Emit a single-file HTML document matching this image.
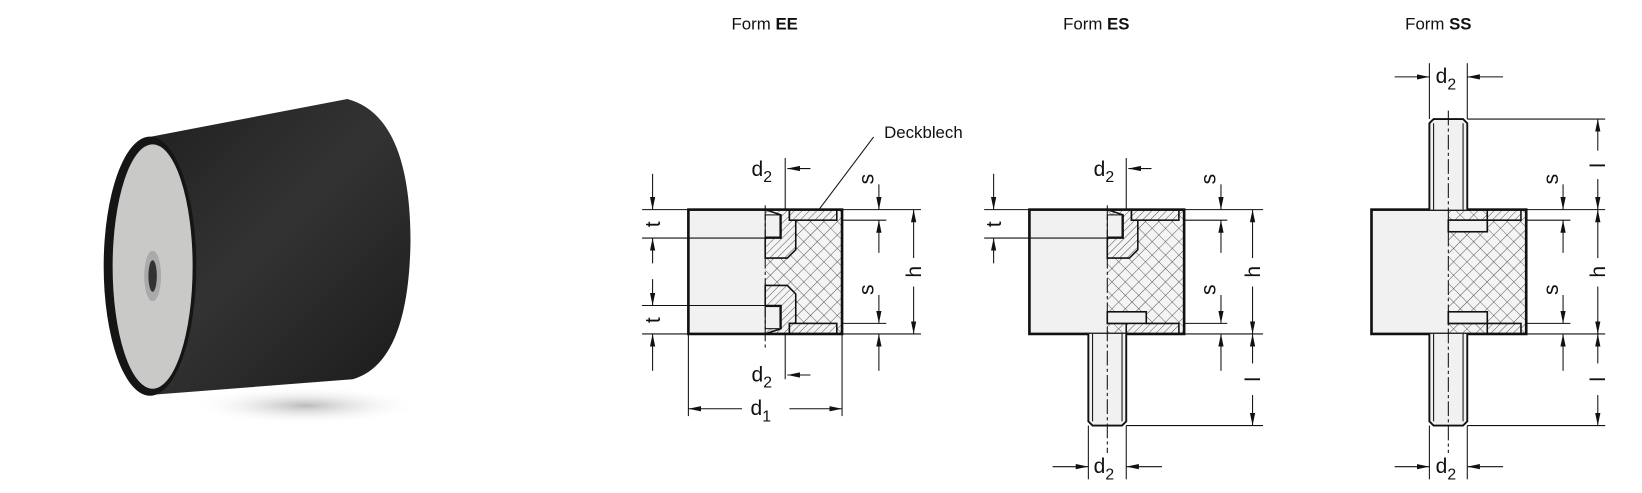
<!DOCTYPE html>
<html><head><meta charset="utf-8"><style>
html,body{margin:0;padding:0;background:#fff;}
svg{display:block;}
text{font-family:"Liberation Sans",Arial,sans-serif;fill:#111;}
</style></head><body>
<svg width="1642" height="493" viewBox="0 0 1560 468" preserveAspectRatio="none" xmlns="http://www.w3.org/2000/svg">
<defs>
<marker id="a" markerWidth="12" markerHeight="6" refX="12" refY="3" orient="auto" markerUnits="userSpaceOnUse"><path d="M0,0.5 L12,3 L0,5.5 Z" fill="#111"/></marker>
<pattern id="x" width="9" height="9" patternUnits="userSpaceOnUse" patternTransform="rotate(45)"><rect width="9" height="9" fill="#f4f4f4"/><path d="M0,0 H9 M0,0 V9" stroke="#333" stroke-width="0.8"/></pattern>
<pattern id="h" width="5" height="5" patternUnits="userSpaceOnUse" patternTransform="rotate(45)"><rect width="5" height="5" fill="#f4f4f4"/><path d="M0,0 V5" stroke="#333" stroke-width="0.8"/></pattern>
<radialGradient id="sh" cx="0.5" cy="0.5" r="0.5"><stop offset="0" stop-color="#bbb"/><stop offset="1" stop-color="#fff" stop-opacity="0"/></radialGradient>
<linearGradient id="rb" x1="100" y1="90" x2="390" y2="380" gradientUnits="userSpaceOnUse"><stop offset="0" stop-color="#1c1c1c"/><stop offset="0.5" stop-color="#333"/><stop offset="1" stop-color="#1a1a1a"/></linearGradient>
</defs>

<!-- photo -->
<ellipse cx="290" cy="385" rx="110" ry="18" fill="url(#sh)"/>
<path d="M142,130 L330,94 Q390,110 390,230 Q388,345 335,360 L142,375 Z" fill="url(#rb)"/>
<ellipse cx="142.5" cy="252.7" rx="44" ry="123" fill="#151515"/>
<ellipse cx="145" cy="253" rx="38" ry="116" fill="#c9c9c7"/>
<ellipse cx="145" cy="262" rx="8" ry="24" fill="#aaa"/>
<ellipse cx="145" cy="262" rx="4" ry="15" fill="#333"/>

<!-- titles -->
<text x="695" y="28" font-size="16">Form <tspan font-weight="bold">EE</tspan></text>
<text x="1010" y="28" font-size="16">Form <tspan font-weight="bold">ES</tspan></text>
<text x="1335" y="28" font-size="16">Form <tspan font-weight="bold">SS</tspan></text>

<g stroke="#111" stroke-width="1" fill="none">
<!-- ===== EE ===== -->
<rect x="654" y="199" width="146" height="118" fill="#f1f1f1" stroke="none"/>
<rect x="727" y="199" width="73" height="118" fill="url(#x)" stroke="none"/>
<path d="M727,199 H750 V209 H756 V237 L748,245 H727 V226 H742 V204 Z" fill="url(#h)" stroke-width="1.5"/>
<path d="M727,317 H750 V307 H756 V279 L748,271 H727 V290 H742 V312 Z" fill="url(#h)" stroke-width="1.5"/>
<rect x="727" y="204" width="14" height="21" fill="#f1f1f1" stroke-width="1"/>
<rect x="727" y="291" width="14" height="21" fill="#f1f1f1" stroke-width="1"/>
<rect x="750" y="199" width="45" height="10" fill="url(#h)" stroke-width="1.5"/>
<rect x="750" y="307" width="45" height="10" fill="url(#h)" stroke-width="1.5"/>
<rect x="654" y="199" width="146" height="118" stroke-width="2.5"/>
<line x1="727" y1="195" x2="727" y2="330" stroke-dasharray="14,3,3,3"/>
<line x1="746" y1="150" x2="746" y2="199"/>
<line x1="746" y1="317" x2="746" y2="360"/>
<line x1="770" y1="160" x2="748" y2="160" marker-end="url(#a)"/>
<line x1="770" y1="356" x2="748" y2="356" marker-end="url(#a)"/>
<line x1="830" y1="130" x2="778" y2="199"/>
<line x1="610" y1="199" x2="654" y2="199"/><line x1="610" y1="226" x2="727" y2="226"/>
<line x1="610" y1="290" x2="727" y2="290"/><line x1="610" y1="317" x2="654" y2="317"/>
<line x1="620" y1="165" x2="620" y2="199" marker-end="url(#a)"/>
<line x1="620" y1="250" x2="620" y2="226" marker-end="url(#a)"/>
<line x1="620" y1="265" x2="620" y2="290" marker-end="url(#a)"/>
<line x1="620" y1="352" x2="620" y2="317" marker-end="url(#a)"/>
<line x1="800" y1="199" x2="875" y2="199"/><line x1="800" y1="209" x2="842" y2="209"/>
<line x1="800" y1="307" x2="842" y2="307"/><line x1="800" y1="317" x2="875" y2="317"/>
<line x1="835" y1="175" x2="835" y2="199" marker-end="url(#a)"/>
<line x1="835" y1="240" x2="835" y2="209" marker-end="url(#a)"/>
<line x1="835" y1="280" x2="835" y2="307" marker-end="url(#a)"/>
<line x1="835" y1="352" x2="835" y2="317" marker-end="url(#a)"/>
<line x1="868" y1="245" x2="868" y2="199" marker-end="url(#a)"/>
<line x1="868" y1="272" x2="868" y2="317" marker-end="url(#a)"/>
<line x1="654" y1="317" x2="654" y2="395"/><line x1="800" y1="317" x2="800" y2="395"/>
<line x1="705" y1="388" x2="654" y2="388" marker-end="url(#a)"/>
<line x1="750" y1="388" x2="800" y2="388" marker-end="url(#a)"/>

<!-- ===== ES ===== -->
<rect x="978" y="199" width="147" height="118" fill="#f1f1f1" stroke="none"/>
<rect x="1052" y="199" width="73" height="118" fill="url(#x)" stroke="none"/>
<path d="M1052,199 H1075 V209 H1081 V237 L1073,245 H1052 V226 H1067 V204 Z" fill="url(#h)" stroke-width="1.5"/>
<rect x="1052" y="204" width="14" height="21" fill="#f1f1f1"/>
<rect x="1075" y="199" width="45" height="10" fill="url(#h)" stroke-width="1.5"/>
<path d="M1052,296 H1089 V307 H1120 V317 H1070 V307 H1052 Z" fill="url(#h)" stroke-width="1.5"/>
<rect x="1052" y="296" width="37" height="11" fill="#f1f1f1" stroke-width="1.5"/>
<rect x="978" y="199" width="147" height="118" stroke-width="2.5"/>
<path d="M1034,317 V400 L1038,404 H1066 L1070,400 V317" fill="#f1f1f1" stroke-width="1.8"/>
<line x1="1038" y1="317" x2="1038" y2="400"/><line x1="1066" y1="317" x2="1066" y2="400"/>
<line x1="1052" y1="195" x2="1052" y2="430" stroke-dasharray="14,3,3,3"/>
<line x1="1070" y1="150" x2="1070" y2="199"/>
<line x1="1094" y1="160" x2="1072" y2="160" marker-end="url(#a)"/>
<line x1="1034" y1="404" x2="1034" y2="455"/><line x1="1070" y1="404" x2="1070" y2="455"/>
<line x1="1000" y1="443" x2="1034" y2="443" marker-end="url(#a)"/>
<line x1="1104" y1="443" x2="1070" y2="443" marker-end="url(#a)"/>
<line x1="935" y1="199" x2="978" y2="199"/><line x1="935" y1="226" x2="1052" y2="226"/>
<line x1="944" y1="165" x2="944" y2="199" marker-end="url(#a)"/>
<line x1="944" y1="250" x2="944" y2="226" marker-end="url(#a)"/>
<line x1="1125" y1="199" x2="1200" y2="199"/><line x1="1125" y1="209" x2="1166" y2="209"/>
<line x1="1125" y1="307" x2="1166" y2="307"/><line x1="1125" y1="317" x2="1200" y2="317"/>
<line x1="1070" y1="404" x2="1200" y2="404"/>
<line x1="1160" y1="175" x2="1160" y2="199" marker-end="url(#a)"/>
<line x1="1160" y1="240" x2="1160" y2="209" marker-end="url(#a)"/>
<line x1="1160" y1="280" x2="1160" y2="307" marker-end="url(#a)"/>
<line x1="1160" y1="352" x2="1160" y2="317" marker-end="url(#a)"/>
<line x1="1190" y1="245" x2="1190" y2="199" marker-end="url(#a)"/>
<line x1="1190" y1="272" x2="1190" y2="317" marker-end="url(#a)"/>
<line x1="1190" y1="345" x2="1190" y2="317" marker-end="url(#a)"/>
<line x1="1190" y1="375" x2="1190" y2="404" marker-end="url(#a)"/>

<!-- ===== SS ===== -->
<rect x="1303" y="199" width="147" height="118" fill="#f1f1f1" stroke="none"/>
<rect x="1376" y="199" width="74" height="118" fill="url(#x)" stroke="none"/>
<path d="M1376,209 H1413 V199 H1445 V209 H1413 V220 H1376 Z" fill="url(#h)" stroke-width="1.5"/>
<path d="M1376,307 H1413 V317 H1445 V307 H1413 V296 H1376 Z" fill="url(#h)" stroke-width="1.5"/>
<rect x="1376" y="209" width="37" height="11" fill="#f1f1f1" stroke-width="1.5"/>
<rect x="1376" y="296" width="37" height="11" fill="#f1f1f1" stroke-width="1.5"/>
<rect x="1303" y="199" width="147" height="118" stroke-width="2.5"/>
<path d="M1358,199 V117 L1362,113 H1390 L1394,117 V199" fill="#f1f1f1" stroke-width="1.8"/>
<path d="M1358,317 V400 L1362,404 H1390 L1394,400 V317" fill="#f1f1f1" stroke-width="1.8"/>
<line x1="1362" y1="117" x2="1362" y2="199"/><line x1="1390" y1="117" x2="1390" y2="199"/>
<line x1="1362" y1="317" x2="1362" y2="400"/><line x1="1390" y1="317" x2="1390" y2="400"/>
<line x1="1376" y1="105" x2="1376" y2="430" stroke-dasharray="14,3,3,3"/>
<line x1="1358" y1="60" x2="1358" y2="113"/><line x1="1394" y1="60" x2="1394" y2="113"/>
<line x1="1325" y1="73" x2="1358" y2="73" marker-end="url(#a)"/>
<line x1="1428" y1="73" x2="1394" y2="73" marker-end="url(#a)"/>
<line x1="1358" y1="404" x2="1358" y2="455"/><line x1="1394" y1="404" x2="1394" y2="455"/>
<line x1="1325" y1="443" x2="1358" y2="443" marker-end="url(#a)"/>
<line x1="1428" y1="443" x2="1394" y2="443" marker-end="url(#a)"/>
<line x1="1394" y1="113" x2="1525" y2="113"/>
<line x1="1450" y1="199" x2="1525" y2="199"/><line x1="1450" y1="209" x2="1492" y2="209"/>
<line x1="1450" y1="307" x2="1492" y2="307"/><line x1="1450" y1="317" x2="1525" y2="317"/>
<line x1="1394" y1="404" x2="1525" y2="404"/>
<line x1="1485" y1="175" x2="1485" y2="199" marker-end="url(#a)"/>
<line x1="1485" y1="240" x2="1485" y2="209" marker-end="url(#a)"/>
<line x1="1485" y1="280" x2="1485" y2="307" marker-end="url(#a)"/>
<line x1="1485" y1="352" x2="1485" y2="317" marker-end="url(#a)"/>
<line x1="1518" y1="143" x2="1518" y2="113" marker-end="url(#a)"/>
<line x1="1518" y1="170" x2="1518" y2="199" marker-end="url(#a)"/>
<line x1="1518" y1="245" x2="1518" y2="199" marker-end="url(#a)"/>
<line x1="1518" y1="272" x2="1518" y2="317" marker-end="url(#a)"/>
<line x1="1518" y1="345" x2="1518" y2="317" marker-end="url(#a)"/>
<line x1="1518" y1="375" x2="1518" y2="404" marker-end="url(#a)"/>
</g>

<g font-size="20">
<text x="714" y="167">d<tspan font-size="15" dy="6">2</tspan></text>
<text x="714" y="362">d<tspan font-size="15" dy="6">2</tspan></text>
<text x="713" y="394">d<tspan font-size="15" dy="6">1</tspan></text>
<text x="1039" y="167">d<tspan font-size="15" dy="6">2</tspan></text>
<text x="1039" y="449">d<tspan font-size="15" dy="6">2</tspan></text>
<text x="1364" y="79">d<tspan font-size="15" dy="6">2</tspan></text>
<text x="1364" y="449">d<tspan font-size="15" dy="6">2</tspan></text>
<text transform="translate(627,213) rotate(-90)" text-anchor="middle">t</text>
<text transform="translate(627,304) rotate(-90)" text-anchor="middle">t</text>
<text transform="translate(951,213) rotate(-90)" text-anchor="middle">t</text>
<text transform="translate(830,170) rotate(-90)" text-anchor="middle">s</text>
<text transform="translate(830,275) rotate(-90)" text-anchor="middle">s</text>
<text transform="translate(875,258) rotate(-90)" text-anchor="middle">h</text>
<text transform="translate(1155,170) rotate(-90)" text-anchor="middle">s</text>
<text transform="translate(1155,275) rotate(-90)" text-anchor="middle">s</text>
<text transform="translate(1197,258) rotate(-90)" text-anchor="middle">h</text>
<text transform="translate(1197,360) rotate(-90)" text-anchor="middle">l</text>
<text transform="translate(1480,170) rotate(-90)" text-anchor="middle">s</text>
<text transform="translate(1480,275) rotate(-90)" text-anchor="middle">s</text>
<text transform="translate(1525,258) rotate(-90)" text-anchor="middle">h</text>
<text transform="translate(1525,157) rotate(-90)" text-anchor="middle">l</text>
<text transform="translate(1525,360) rotate(-90)" text-anchor="middle">l</text>
</g>
<text x="840" y="131" font-size="16">Deckblech</text>
</svg>
</body></html>
